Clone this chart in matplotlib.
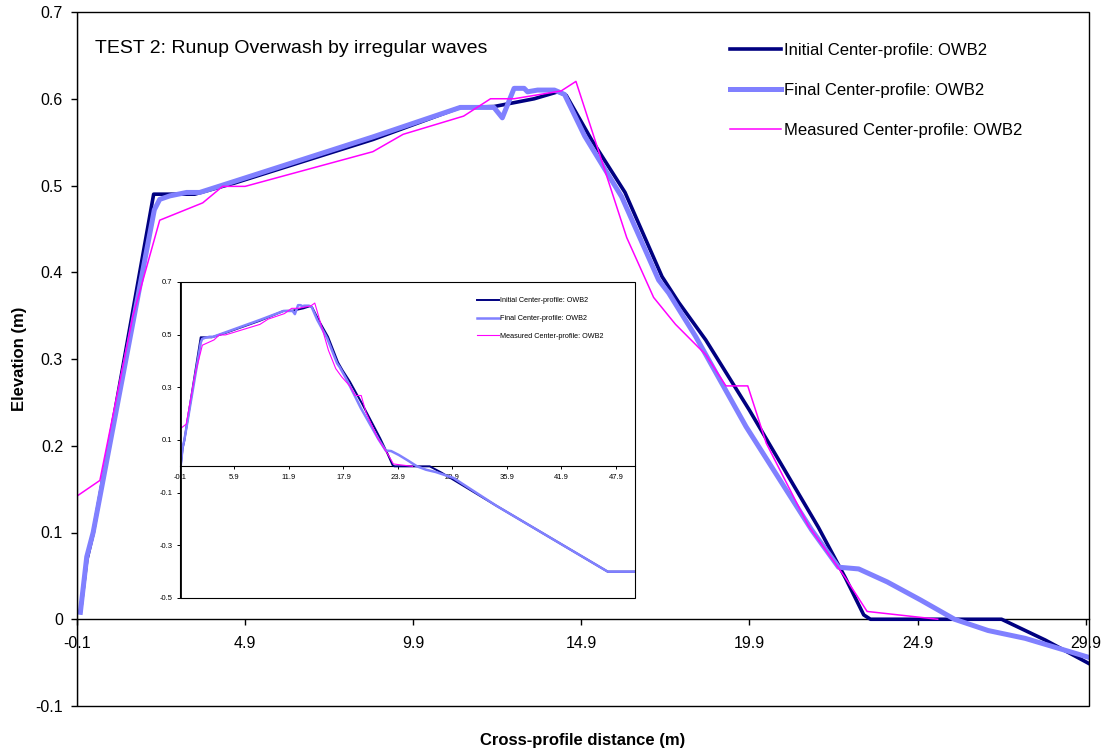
import matplotlib
matplotlib.use("Agg")
import matplotlib.pyplot as plt
from matplotlib.patches import Rectangle

plt.rcParams['font.family'] = ['Liberation Sans', 'DejaVu Sans']

# Initial center profile (OWB2)
init_x = [0.0, 0.19, 0.38, 2.18, 3.4, 4.6, 8.7, 11.3, 12.3, 13.5, 14.2, 14.45,
          15.2, 16.2, 17.3, 17.8, 18.6, 19.9, 21.95, 22.75, 23.3, 23.5, 27.4,
          28.7, 34.7, 47.0, 50.0]
init_y = [0.008, 0.068, 0.099, 0.49, 0.49, 0.503, 0.553, 0.59, 0.591, 0.600,
          0.608, 0.604, 0.553, 0.492, 0.395, 0.365, 0.322, 0.241, 0.106, 0.048,
          0.005, 0.0, 0.0, -0.024, -0.149, -0.40, -0.40]

# Final (modelled) center profile (OWB2)
final_x = [0.0, 0.19, 0.38, 2.2, 2.36, 2.66, 3.16, 3.55, 4.6, 8.7, 11.3, 12.3,
           12.55, 12.9, 13.2, 13.3, 13.6, 14.1, 14.4, 15.0, 16.1, 17.2, 17.5,
           18.3, 19.8, 21.75, 22.55, 23.15, 24.0, 25.0, 26.0, 27.0, 28.1, 30.0,
           34.7, 47.0, 50.0]
final_y = [0.008, 0.072, 0.10, 0.472, 0.484, 0.488, 0.492, 0.492, 0.505, 0.556,
           0.59, 0.59, 0.578, 0.612, 0.612, 0.608, 0.61, 0.61, 0.605, 0.557,
           0.487, 0.391, 0.376, 0.326, 0.222, 0.103, 0.06, 0.058, 0.043, 0.022,
           0.0, -0.013, -0.022, -0.044, -0.149, -0.40, -0.40]

# Measured center profile (OWB2)
meas_x = [-0.1, 0.58, 1.56, 2.36, 3.64, 4.23, 4.9, 8.7, 9.6, 11.4, 12.2, 12.9,
          14.3, 14.74, 16.25, 17.05, 17.7, 18.6, 19.2, 19.85, 20.4, 21.65,
          22.75, 23.4, 25.5]
meas_y = [0.142, 0.16, 0.349, 0.46, 0.48, 0.499, 0.499, 0.539, 0.559, 0.58,
          0.60, 0.60, 0.609, 0.62, 0.44, 0.371, 0.34, 0.305, 0.269, 0.269,
          0.203, 0.108, 0.048, 0.009, 0.0]

labels = ["Initial Center-profile: OWB2",
          "Final Center-profile: OWB2",
          "Measured Center-profile: OWB2"]

main_xticks = [-0.1, 4.9, 9.9, 14.9, 19.9, 24.9, 29.9]
main_yticks = [-0.1, 0.0, 0.1, 0.2, 0.3, 0.4, 0.5, 0.6, 0.7]
inset_xticks = [-0.1, 5.9, 11.9, 17.9, 23.9, 29.9, 35.9, 41.9, 47.9]
inset_yticks = [-0.5, -0.3, -0.1, 0.1, 0.3, 0.5, 0.7]

NAVY = "#000080"
BLUE = "#8080ff"
MAGENTA = "#ff00ff"

W, H = 1109, 748
fig = plt.figure(figsize=(W / 100, H / 100), dpi=100)

def frac_rect(x0, y0, x1, y1):
    return [x0 / W, 1 - y1 / H, (x1 - x0) / W, (y1 - y0) / H]

# ---- main axes ----
ax = fig.add_axes(frac_rect(77, 12, 1089, 706))
ax.plot(init_x, init_y, color=NAVY, lw=2.6, label=labels[0], zorder=3)
ax.plot(final_x, final_y, color=BLUE, lw=3.6, label=labels[1], zorder=4)
ax.plot(meas_x, meas_y, color=MAGENTA, lw=1.1, label=labels[2], zorder=5)
ax.set_xlim(-0.1, 30.0)
ax.set_ylim(-0.1, 0.7)

for s in ['top', 'right', 'left']:
    ax.spines[s].set_visible(False)
ax.spines['bottom'].set_position(('data', 0))
ax.spines['bottom'].set_linewidth(1.0)
ax.add_patch(Rectangle((0, 0), 1, 1, transform=ax.transAxes, fill=False,
                       lw=1.0, edgecolor='black', clip_on=False, zorder=6))
ax.axvline(-0.1, color='black', lw=1.6, zorder=6)

ax.set_xticks(main_xticks)
ax.set_xticklabels([f"{v:g}" for v in main_xticks])
ax.set_yticks(main_yticks)
ax.set_yticklabels([f"{v:g}" for v in main_yticks])
ax.tick_params(axis='both', direction='out', length=4, width=1, labelsize=11.5)
ax.tick_params(axis='x', pad=8)
ax.tick_params(axis='y', pad=6)

ax.set_xlabel("Cross-profile distance (m)", fontsize=12, fontweight='bold')
ax.xaxis.set_label_coords(0.4995, -0.039)
ax.set_ylabel("Elevation (m)", fontsize=12, fontweight='bold')
ax.yaxis.set_label_coords(-0.049, 0.5)

ax.text(0.0178, 0.948, "TEST 2: Runup Overwash by irregular waves",
        transform=ax.transAxes, fontsize=14, va='center', ha='left')

ax.legend(loc='upper left', bbox_to_anchor=(0.645, 0.955), frameon=False,
          fontsize=12, handlelength=3.05, handletextpad=0.2,
          labelspacing=1.5, borderpad=0, borderaxespad=0)

# ---- inset axes ----
ins = fig.add_axes(frac_rect(180, 282, 635, 598))
ins.plot(init_x, init_y, color=NAVY, lw=1.4, label=labels[0], zorder=3)
ins.plot(final_x, final_y, color=BLUE, lw=1.8, label=labels[1], zorder=4)
ins.plot(meas_x, meas_y, color=MAGENTA, lw=0.8, label=labels[2], zorder=5)
ins.set_xlim(-0.1, 50.0)
ins.set_ylim(-0.5, 0.7)
for s in ['top', 'right', 'left']:
    ins.spines[s].set_visible(False)
ins.spines['bottom'].set_position(('data', 0))
ins.spines['bottom'].set_linewidth(0.8)
ins.add_patch(Rectangle((0, 0), 1, 1, transform=ins.transAxes, fill=False,
                        lw=0.8, edgecolor='black', clip_on=False, zorder=6))
ins.axvline(-0.1, color='black', lw=2.0, zorder=6)
ins.set_xticks(inset_xticks)
ins.set_xticklabels([f"{v:g}" for v in inset_xticks])
ins.set_yticks(inset_yticks)
ins.set_yticklabels([f"{v:g}" for v in inset_yticks])
ins.tick_params(axis='both', direction='out', length=2.5, width=0.7, labelsize=5.5, pad=3)
ins.legend(loc='upper left', bbox_to_anchor=(0.653, 0.952), frameon=False,
           fontsize=5.2, handlelength=3.0, handletextpad=0.2,
           labelspacing=1.5, borderpad=0, borderaxespad=0)

fig.savefig("out.png", dpi=100)
